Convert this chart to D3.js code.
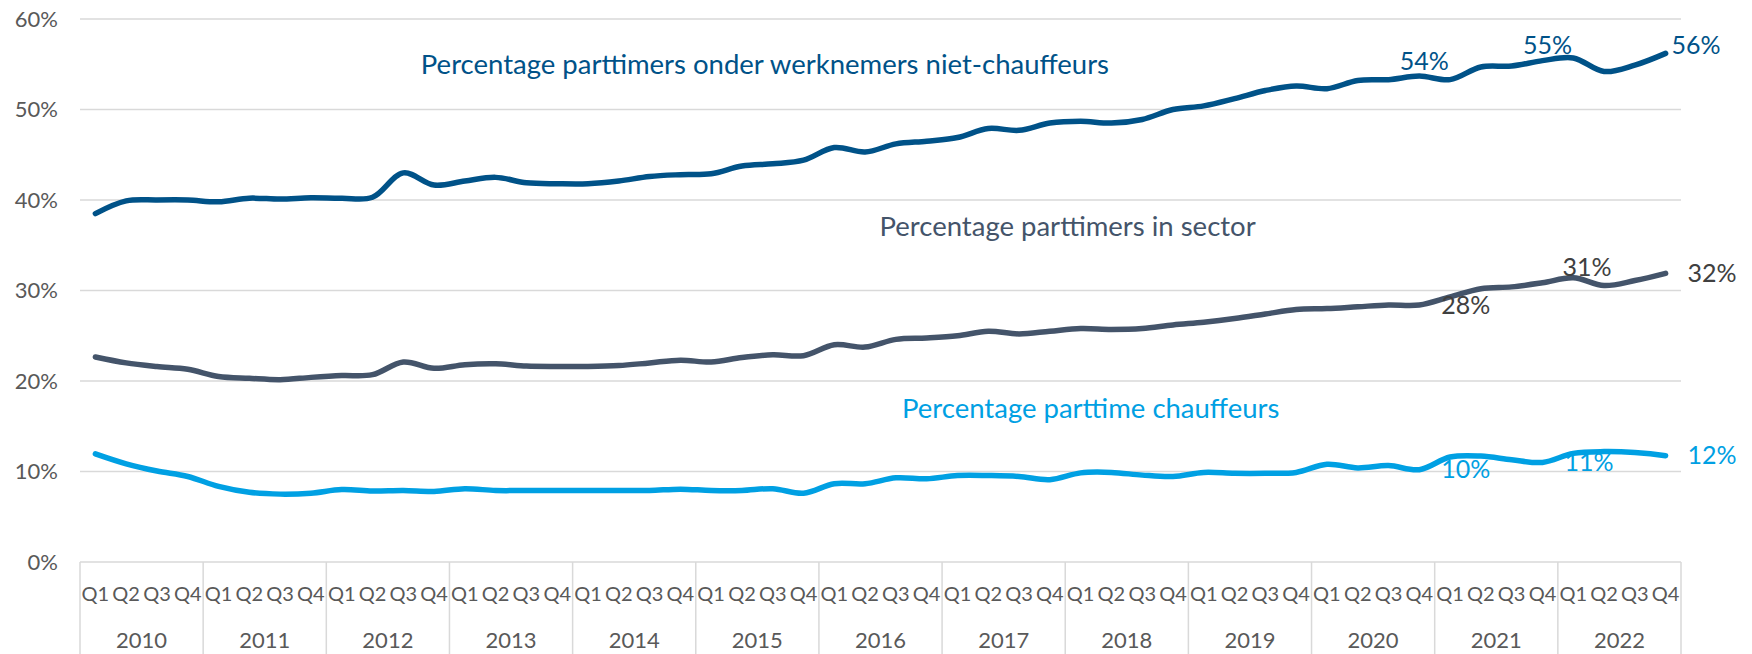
<!DOCTYPE html>
<html>
<head>
<meta charset="utf-8">
<script src="https://cdn.jsdelivr.net/npm/d3@7"></script>
<style>
  body { margin: 0; background: #fff; }
  svg { display: block; font-family: Lato, "Open Sans", sans-serif; }
</style>
</head>
<body>
<div class="chart"></div>
<script>
// quarters 2010 Q1 .. 2022 Q4
const years = ["2010","2011","2012","2013","2014","2015","2016","2017","2018","2019","2020","2021","2022"]
const quarters = ["Q1","Q2","Q3","Q4"]
const yTicks = [0, 10, 20, 30, 40, 50, 60]

// percentage parttimers onder werknemers niet-chauffeurs
const nietChauffeurs = [
	38.5, 39.9, 40.0, 40.0, 39.8, 40.2, 40.1, 40.25, 40.2, 40.3, 43.0, 41.65,
	42.1, 42.5, 41.9, 41.8, 41.8, 42.1, 42.6, 42.8, 42.9, 43.75, 44.0, 44.4,
	45.8, 45.3, 46.2, 46.5, 46.9, 47.9, 47.7, 48.5, 48.7, 48.5, 48.9, 50.0,
	50.4, 51.2, 52.1, 52.6, 52.3, 53.2, 53.3, 53.7, 53.3, 54.7, 54.8, 55.4,
	55.7, 54.2, 54.9, 56.2
]
// percentage parttimers in sector
const sector = [
	22.65, 22.0, 21.6, 21.3, 20.5, 20.3, 20.15, 20.4, 20.6, 20.7, 22.1, 21.4,
	21.8, 21.9, 21.65, 21.6, 21.6, 21.7, 22.0, 22.3, 22.1, 22.6, 22.9, 22.8,
	24.0, 23.75, 24.6, 24.75, 25.0, 25.5, 25.2, 25.5, 25.8, 25.7, 25.8, 26.2,
	26.5, 26.9, 27.4, 27.9, 28.0, 28.2, 28.4, 28.4, 29.3, 30.2, 30.4, 30.85,
	31.4, 30.55, 31.1, 31.9
]
// percentage parttime chauffeurs
const chauffeurs = [
	11.95, 10.85, 10.05, 9.45, 8.35, 7.7, 7.5, 7.6, 8.0, 7.85, 7.9, 7.8,
	8.1, 7.9, 7.9, 7.9, 7.9, 7.9, 7.9, 8.05, 7.9, 7.9, 8.1, 7.6,
	8.65, 8.65, 9.3, 9.2, 9.55, 9.55, 9.45, 9.1, 9.85, 9.9, 9.6, 9.45,
	9.9, 9.8, 9.8, 9.9, 10.8, 10.4, 10.65, 10.2, 11.6, 11.7, 11.3, 11.0,
	12.0, 12.2, 12.1, 11.75
]

const seriesNames = [
	"Percentage parttimers onder werknemers niet-chauffeurs",
	"Percentage parttimers in sector",
	"Percentage parttime chauffeurs"
]
// quarter indexes that carry a data label
const labelIdx = [43, 47, 51]

const width = 1752, height = 654
const margin = { left: 80, right: 71, top: 19, bottom: 92 }

const svg = d3.select(".chart").append("svg")
	.attr("width", width)
	.attr("height", height)

svg.append("rect").attr("width", width).attr("height", height).attr("fill", "#fff")

const n = years.length * quarters.length
const x = d3.scaleLinear().domain([-0.5, n - 0.5]).range([margin.left, width - margin.right])
const y = d3.scaleLinear().domain([0, 60]).range([height - margin.bottom, margin.top])

// gridlines
svg.append("g")
	.selectAll("line")
	.data(yTicks)
	.join("line")
	.attr("x1", x(-0.5)).attr("x2", x(n - 0.5))
	.attr("y1", d => y(d)).attr("y2", d => y(d))
	.attr("stroke", "#d9d9d9")
	.attr("stroke-width", 1.5)

// y labels
svg.append("g")
	.selectAll("text")
	.data(yTicks)
	.join("text")
	.attr("x", x(-0.5) - 22)
	.attr("y", d => y(d))
	.attr("dy", "0.35em")
	.attr("text-anchor", "end")
	.attr("fill", "#595959")
	.style("font-size", "22px")
	.text(d => d + "%")

// year separators
svg.append("g")
	.selectAll("line")
	.data(d3.range(years.length + 1))
	.join("line")
	.attr("x1", d => x(d * 4 - 0.5)).attr("x2", d => x(d * 4 - 0.5))
	.attr("y1", y(0)).attr("y2", height)
	.attr("stroke", "#d9d9d9")
	.attr("stroke-width", 1.5)

// quarter labels
svg.append("g")
	.selectAll("text")
	.data(d3.range(n))
	.join("text")
	.attr("x", d => x(d))
	.attr("y", y(0) + 32)
	.attr("dy", "0.35em")
	.attr("text-anchor", "middle")
	.attr("fill", "#595959")
	.style("font-size", "20px")
	.text(d => quarters[d % 4])

// year labels
svg.append("g")
	.selectAll("text")
	.data(years)
	.join("text")
	.attr("x", (d, i) => x(i * 4 + 1.5))
	.attr("y", y(0) + 78)
	.attr("dy", "0.35em")
	.attr("text-anchor", "middle")
	.attr("fill", "#595959")
	.style("font-size", "22px")
	.text(d => d)

const line = d3.line()
	.x((d, i) => x(i))
	.y(d => y(d))
	.curve(d3.curveCatmullRom.alpha(0.5))

const series = [
	{ values: nietChauffeurs, color: "#005288", labelColor: "#005288" },
	{ values: sector, color: "#44546a", labelColor: "#404040" },
	{ values: chauffeurs, color: "#00a0e3", labelColor: "#00a0e3" }
]

svg.append("g")
	.selectAll("path")
	.data(series)
	.join("path")
	.attr("d", d => line(d.values))
	.attr("fill", "none")
	.attr("stroke", d => d.color)
	.attr("stroke-width", 5.5)
	.attr("stroke-linecap", "round")
	.attr("stroke-linejoin", "round")

// data labels
function labelPos(s, i) {
	const px = x(i), py = y(series[s].values[i])
	if (s === 0) {
		if (i === n - 1) return { x: px + 6, y: py - 8, anchor: "start" }
		return { x: px + 5, y: py - 15, anchor: "middle" }
	}
	if (s === 1 && i === 47) return { x: px + 20, y: py - 16, anchor: "start" }
	return { x: px + 22, y: py, anchor: "start" }
}
series.forEach((s, si) => {
	svg.append("g")
		.selectAll("text")
		.data(labelIdx)
		.join("text")
		.attr("x", i => labelPos(si, i).x)
		.attr("y", i => labelPos(si, i).y)
		.attr("dy", "0.35em")
		.attr("text-anchor", i => labelPos(si, i).anchor)
		.attr("fill", s.labelColor)
		.style("font-size", "25px")
		.text(i => Math.round(s.values[i]) + "%")
})

// series names, placed in chart coordinates
const namePos = [[10.57, 55.0], [25.47, 37.05], [26.2, 17.0]]
const nameColors = ["#005288", "#44546a", "#00a0e3"]
svg.append("g")
	.selectAll("text")
	.data(seriesNames)
	.join("text")
	.attr("x", (d, i) => x(namePos[i][0]))
	.attr("y", (d, i) => y(namePos[i][1]))
	.attr("dy", "0.35em")
	.attr("fill", (d, i) => nameColors[i])
	.style("font-size", "27.5px")
	.text(d => d)
</script>
</body>
</html>
